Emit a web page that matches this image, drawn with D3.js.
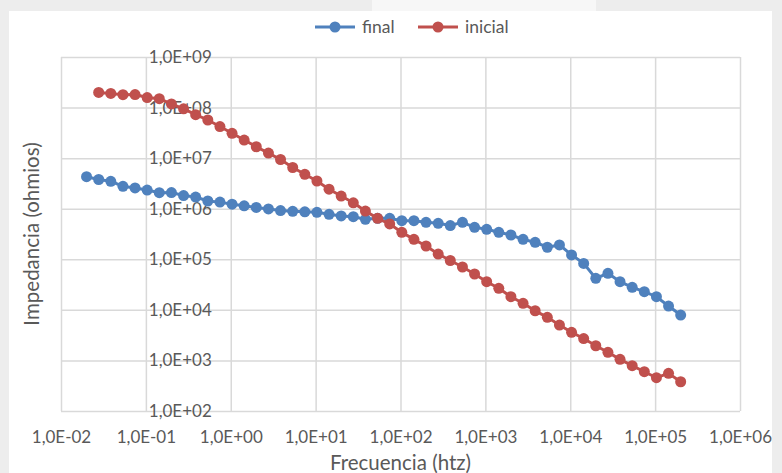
<!DOCTYPE html>
<html>
<head>
<meta charset="utf-8">
<script src="https://cdn.jsdelivr.net/npm/d3@7"></script>
<style>
  html, body { margin: 0; padding: 0; background: #ededed; }
  svg { display: block; }
</style>
</head>
<body>
<svg id="chart" width="782" height="473"></svg>
<script>
// ---- Data ----
const frecuencia = [
  0.02, 0.0278, 0.0386, 0.0537, 0.0746, 0.1036, 0.1439,
  0.2, 0.278, 0.386, 0.537, 0.746, 1.036, 1.439,
  2, 2.78, 3.86, 5.37, 7.46, 10.36, 14.39,
  20, 27.8, 38.6, 53.7, 74.6, 103.6, 143.9,
  200, 278, 386, 537, 746, 1036, 1439,
  2000, 2780, 3860, 5370, 7460, 10360, 14390,
  20000, 27800, 38600, 53700, 74600, 103600, 143900,
  200000
];
const finalZ = [
  4.30e6, 3.78e6, 3.48e6, 2.77e6, 2.57e6, 2.34e6, 2.07e6,
  2.09e6, 1.82e6, 1.70e6, 1.42e6, 1.35e6, 1.23e6, 1.14e6,
  1.06e6, 9.9e5, 9.2e5, 8.9e5, 8.7e5, 8.5e5, 7.75e5,
  7.2e5, 6.95e5, 6.18e5, 6.46e5, 6.46e5, 5.8e5, 5.8e5,
  5.39e5, 5.15e5, 4.65e5, 5.39e5, 4.29e5, 3.92e5, 3.42e5,
  3.02e5, 2.48e5, 2.17e5, 1.73e5, 1.92e5, 1.22e5, 8.3e4,
  4.2e4, 5.28e4, 3.6e4, 2.79e4, 2.29e4, 1.82e4, 1.19e4,
  7.9e3
];
// "inicial" starts at the second frequency
const inicialZ = [
  null,
  1.99e8, 1.90e8, 1.80e8, 1.81e8, 1.58e8, 1.50e8,
  1.18e8, 9.46e7, 7.23e7, 5.68e7, 4.22e7, 3.10e7, 2.28e7,
  1.68e7, 1.26e7, 9.4e6, 6.53e6, 4.79e6, 3.53e6, 2.43e6,
  1.78e6, 1.31e6, 9.0e5, 6.46e5, 4.99e5, 3.42e5, 2.48e5,
  1.83e5, 1.27e5, 9.46e4, 7.04e4, 5.12e4, 3.6e4, 2.67e4,
  1.82e4, 1.35e4, 9.6e3, 7.12e3, 5.0e3, 3.6e3, 2.71e3,
  1.95e3, 1.45e3, 1.05e3, 7.87e2, 5.98e2, 4.55e2, 5.56e2,
  3.79e2
];
const seriesNames = ["final", "inicial"];
const xTickValues = [1e-2, 1e-1, 1e0, 1e1, 1e2, 1e3, 1e4, 1e5, 1e6];
const xTickLabels = ["1,0E-02", "1,0E-01", "1,0E+00", "1,0E+01", "1,0E+02", "1,0E+03", "1,0E+04", "1,0E+05", "1,0E+06"];
const yTickValues = [1e2, 1e3, 1e4, 1e5, 1e6, 1e7, 1e8, 1e9];
const yTickLabels = ["1,0E+02", "1,0E+03", "1,0E+04", "1,0E+05", "1,0E+06", "1,0E+07", "1,0E+08", "1,0E+09"];
const xTitle = "Frecuencia (htz)";
const yTitle = "Impedancia (ohmios)";

// ---- Styling ----
const colors = ["#4F81BD", "#C0504D"];
const textColor = "#595959";
const gridColor = "#d9d9d9";
const font = "Lato, 'Liberation Sans', sans-serif";

const svg = d3.select("#chart");

// frame / background
svg.append("rect").attr("x", 372).attr("y", 0).attr("width", 224).attr("height", 11).attr("fill", "#f7f7f7");
svg.append("rect").attr("x", 9).attr("y", 11).attr("width", 763).attr("height", 462).attr("fill", "#ffffff");

const plot = { left: 61, right: 740, top: 57, bottom: 411 };

const x = d3.scaleLog().domain([1e-2, 1e6]).range([plot.left, plot.right]);
const y = d3.scaleLog().domain([1e2, 1e9]).range([plot.bottom, plot.top]);

// gridlines
const gx = svg.append("g").attr("transform", `translate(0,${plot.bottom})`)
  .call(d3.axisBottom(x).tickValues(xTickValues).tickSize(-(plot.bottom - plot.top)).tickFormat(""));
const gy = svg.append("g").attr("transform", `translate(${plot.left},0)`)
  .call(d3.axisLeft(y).tickValues(yTickValues).tickSize(-(plot.right - plot.left)).tickFormat(""));
[gx, gy].forEach(g => {
  g.select(".domain").remove();
  g.selectAll("line").attr("stroke", gridColor).attr("stroke-width", 1.5);
});

// x tick labels
const xLab = svg.append("g").attr("transform", `translate(0,${plot.bottom})`)
  .call(d3.axisBottom(x).tickValues(xTickValues).tickSize(0).tickPadding(20)
    .tickFormat((d, i) => xTickLabels[i]));
xLab.select(".domain").remove();
xLab.selectAll("text").attr("fill", textColor).style("font-family", font).style("font-size", "17px");

// y tick labels (axis crosses at x = 1)
const yLab = svg.append("g").attr("transform", `translate(${x(1)},0)`)
  .call(d3.axisLeft(y).tickValues(yTickValues).tickSize(0).tickPadding(19)
    .tickFormat((d, i) => yTickLabels[i]));
yLab.select(".domain").remove();
yLab.selectAll("text").attr("fill", textColor).style("font-family", font).style("font-size", "17px");

// axis titles
svg.append("text").attr("x", (plot.left + plot.right) / 2).attr("y", 470)
  .attr("text-anchor", "middle").attr("fill", textColor)
  .style("font-family", font).style("font-size", "20.5px").text(xTitle);
svg.append("text").attr("transform", `translate(39,${(plot.top + plot.bottom) / 2}) rotate(-90)`)
  .attr("text-anchor", "middle").attr("fill", textColor)
  .style("font-family", font).style("font-size", "20.5px").text(yTitle);

// series
const series = [finalZ, inicialZ].map((vals, k) => ({
  name: seriesNames[k],
  color: colors[k],
  points: frecuencia.map((f, i) => ({ f, v: vals[i] })).filter(p => p.v != null)
}));

const line = d3.line().x(p => x(p.f)).y(p => y(p.v));

series.forEach(s => {
  const g = svg.append("g");
  g.append("path").datum(s.points).attr("d", line)
    .attr("fill", "none").attr("stroke", s.color).attr("stroke-width", 3);
  g.selectAll("circle").data(s.points).join("circle")
    .attr("cx", p => x(p.f)).attr("cy", p => y(p.v)).attr("r", 5.5)
    .attr("fill", s.color);
});

// legend
const legendItems = [{ x: 315, tx: 362 }, { x: 418, tx: 465 }];
series.forEach((s, k) => {
  const L = legendItems[k];
  const g = svg.append("g");
  g.append("line").attr("x1", L.x).attr("x2", L.x + 40).attr("y1", 27).attr("y2", 27)
    .attr("stroke", s.color).attr("stroke-width", 3);
  g.append("circle").attr("cx", L.x + 20).attr("cy", 27).attr("r", 5.5).attr("fill", s.color);
  g.append("text").attr("x", L.tx).attr("y", 27).attr("dy", "0.35em")
    .attr("fill", textColor).style("font-family", font).style("font-size", "17.5px").text(s.name);
});
</script>
</body>
</html>
